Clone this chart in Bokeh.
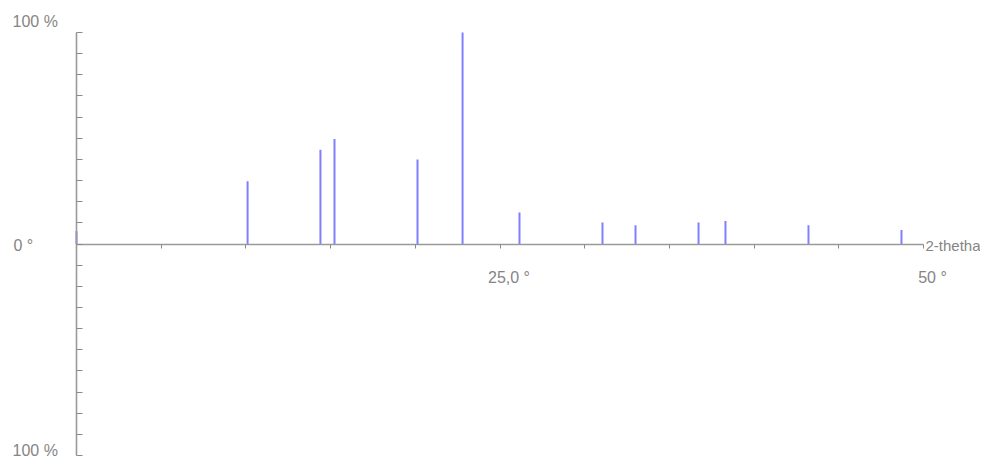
from bokeh.plotting import figure
from bokeh.models import LinearAxis, FixedTicker
from bokeh.core.properties import value
from bokeh.embed import file_html
from bokeh.resources import INLINE

# Peak data: 2-theta (degrees) and relative intensity (%)
two_theta = [0.0, 10.1, 14.4, 15.23, 20.13, 22.79, 26.15, 31.05, 33.0, 36.72, 38.31, 43.21, 48.7]
intensity = [6.0, 29.7, 44.6, 49.6, 39.9, 100.0, 14.9, 10.2, 8.9, 10.2, 10.9, 8.9, 6.6]

x_ticks = [0, 5, 10, 15, 20, 25, 30, 35, 40, 45, 50]
y_ticks = [-100, -90, -80, -70, -60, -50, -40, -30, -20, -10, 0, 10, 20, 30, 40, 50, 60, 70, 80, 90, 100]
x_label_pos = [25, 50]
x_label_text = ["25,0 °", "50 °"]
y_label_top = "100 %"
y_label_zero = "0 °"
y_label_bottom = "100 %"
x_title = "2-thetha"

W, H = 980, 458
pxu = (923 - 76) / 50.0
x0 = -76 / pxu
x1 = x0 + W / pxu
pyu = (455 - 32) / 200.0
y1 = 100 + 32 / pyu
y0 = y1 - H / pyu

p = figure(width=W, height=H, x_range=(x0, x1), y_range=(y0, y1),
           output_backend="svg", toolbar_location=None,
           x_axis_type=None, y_axis_type=None, min_border=0,
           outline_line_color=None)
p.xgrid.visible = False
p.ygrid.visible = False

p.segment(x0=two_theta, y0=[0] * len(two_theta), x1=two_theta, y1=intensity,
          line_color="#8080ff", line_width=2)

axis_col = "#9a9a9a"
xa = LinearAxis(fixed_location=0, ticker=FixedTicker(ticks=x_ticks),
                bounds=(0, 50), axis_line_color=axis_col, axis_line_width=1.6,
                major_tick_line_color="#8a8a8a", major_tick_out=4, major_tick_in=0,
                minor_tick_out=0, minor_tick_in=0,
                major_label_overrides={t: "" for t in x_ticks})
ya = LinearAxis(fixed_location=0, ticker=FixedTicker(ticks=y_ticks),
                bounds=(-100, 100), axis_line_color=axis_col, axis_line_width=1.6,
                major_tick_line_color="#8a8a8a", major_tick_out=0, major_tick_in=6,
                minor_tick_out=0, minor_tick_in=0,
                major_label_overrides={t: "" for t in y_ticks})
p.add_layout(xa, "below")
p.add_layout(ya, "left")

font = value("Liberation Sans")
tc = "#858585"
p.text(x=x_label_pos, y=[0] * len(x_label_pos), text=x_label_text, x_offset=9, y_offset=33,
       text_font=font, text_font_size="16px", text_color=tc,
       text_align="center", text_baseline="middle")
p.text(x=[50], y=[0], text=[x_title], x_offset=2, y_offset=1,
       text_font=font, text_font_size="15px", text_color=tc,
       text_align="left", text_baseline="middle")
p.text(x=[0], y=[100], text=[y_label_top], x_offset=-64, y_offset=-11,
       text_font=font, text_font_size="16px", text_color=tc,
       text_align="left", text_baseline="middle")
p.text(x=[0], y=[0], text=[y_label_zero], x_offset=-63, y_offset=1,
       text_font=font, text_font_size="16px", text_color=tc,
       text_align="left", text_baseline="middle")
p.text(x=[0], y=[-100], text=[y_label_bottom], x_offset=-64, y_offset=-5,
       text_font=font, text_font_size="16px", text_color=tc,
       text_align="left", text_baseline="middle")

open("out.html", "w").write(file_html(p, INLINE))
